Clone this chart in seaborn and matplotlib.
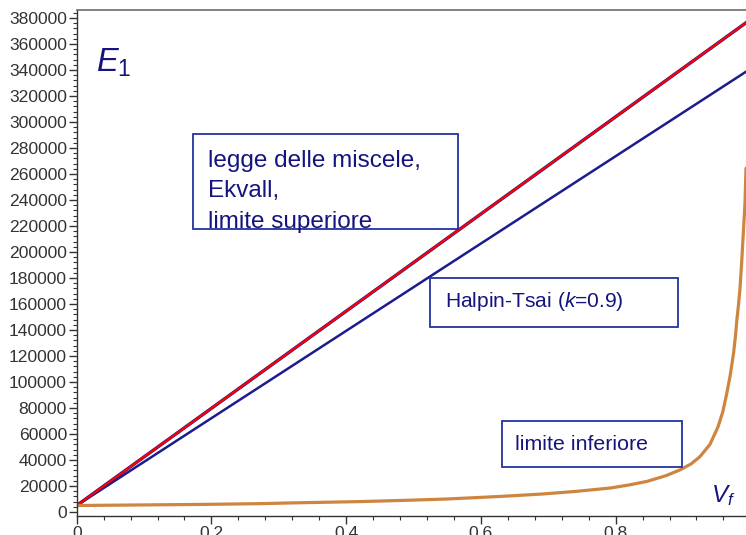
import matplotlib
matplotlib.use("Agg")
import matplotlib.pyplot as plt
import seaborn as sns
import pandas as pd
from matplotlib.ticker import FixedLocator, MultipleLocator
from matplotlib.patches import Rectangle

# ---------------- data ----------------
vf_line = [0.0, 1.0]
E_upper = [5000, 378800]          # legge delle miscele / limite superiore (red)
E_ekvall = [5000, 378800]         # Ekvall (blue, under red)
E_halpin = [5000, 340900]         # Halpin-Tsai k=0.9 (blue)

vf_lower = [0.0, 0.18, 0.27, 0.32, 0.42, 0.49, 0.55, 0.59, 0.63, 0.69, 0.74,
            0.793, 0.82, 0.847, 0.875, 0.896, 0.912, 0.925, 0.94, 0.952,
            0.959, 0.965, 0.970, 0.975, 0.978, 0.980, 0.9825, 0.9846,
            0.987, 0.9895, 0.992, 0.9935]
E_lower = [5000, 5800, 6400, 7000, 8000, 9000, 10000, 11000, 12000, 13800,
           15800, 18500, 20800, 23600, 28000, 32500, 37000, 42500, 52000,
           65600, 77000, 91300, 105000, 122000, 136000, 148000, 160000,
           172000, 191300, 214400, 237500, 264400]

x_ticks = [0.0, 0.2, 0.4, 0.6, 0.8]
x_tick_labels = ["0", "0.2", "0.4", "0.6", "0.8"]
y_ticks = list(range(0, 380001, 20000))
y_tick_labels = [str(v) for v in y_ticks]

# ---------------- style ----------------
sns.set_style("ticks")
plt.rcParams["font.family"] = ["Liberation Sans", "DejaVu Sans"]
plt.rcParams["mathtext.fontset"] = "custom"
plt.rcParams["mathtext.rm"] = "Liberation Sans"
plt.rcParams["mathtext.it"] = "Liberation Sans:italic"

W, H = 746, 535
RED = "#ff0000"
BLUE = "#1c1c8e"
ORANGE = "#cd853f"
NAVY = "#14147f"
BOX = "#2433a0"

fig = plt.figure(figsize=(W / 100, H / 100), dpi=100)
ax = fig.add_axes([76.7 / W, 1 - 516 / H, 1 - 76.7 / W, (516 - 10) / H])

df_up = pd.DataFrame({"Vf": vf_line, "E": E_upper})
df_ek = pd.DataFrame({"Vf": vf_line, "E": E_ekvall})
df_ht = pd.DataFrame({"Vf": vf_line, "E": E_halpin})
df_lo = pd.DataFrame({"Vf": vf_lower, "E": E_lower})

sns.lineplot(data=df_ek, x="Vf", y="E", ax=ax, color=BLUE, lw=2.4)
sns.lineplot(data=df_ht, x="Vf", y="E", ax=ax, color=BLUE, lw=1.8)
sns.lineplot(data=df_up, x="Vf", y="E", ax=ax, color=RED, lw=1.6)
line_lo = sns.lineplot(data=df_lo, x="Vf", y="E", ax=ax, color=ORANGE, lw=2.3)
for ln in ax.get_lines():
    ln.set_solid_joinstyle("round")

ax.set_xlim(0, 0.9935)
ax.set_ylim(-3080, 386200)
ax.set_xlabel("")
ax.set_ylabel("")

ax.xaxis.set_major_locator(FixedLocator(x_ticks))
ax.set_xticklabels(x_tick_labels)
ax.xaxis.set_minor_locator(MultipleLocator(0.04))
ax.yaxis.set_major_locator(FixedLocator(y_ticks))
ax.set_yticklabels(y_tick_labels)
ax.yaxis.set_minor_locator(MultipleLocator(4000))

ax.tick_params(which="major", direction="out", length=6, width=1,
               color="#333333", labelsize=12.6, labelcolor="#333333", pad=1)
ax.tick_params(which="minor", direction="out", length=3, width=0.8,
               color="#333333")

for s in ["left", "bottom"]:
    ax.spines[s].set_color("#333333")
    ax.spines[s].set_linewidth(1.0)
ax.spines["top"].set_color("#777777")
ax.spines["top"].set_linewidth(1.3)
ax.spines["right"].set_visible(False)


def fx(x):
    return x / W


def fy(y):
    return 1 - y / H


# boxes (pixel rectangles)
for (x0, y0, x1, y1) in [(193.3, 134, 458.3, 229.3),
                         (430, 278.3, 678.3, 327.3),
                         (501.7, 421, 682.3, 467.3)]:
    fig.patches.append(Rectangle((fx(x0), fy(y1)), fx(x1) - fx(x0), fy(y0) - fy(y1),
                                 transform=fig.transFigure, fill=False,
                                 edgecolor=BOX, lw=1.3))

tk = dict(color=NAVY, ha="left", va="baseline")
fig.text(fx(208.3), fy(166.7), "legge delle miscele,", fontsize=17.5, **tk)
fig.text(fx(208.3), fy(197.3), "Ekvall,", fontsize=17.5, **tk)
fig.text(fx(208.3), fy(228.3), "limite superiore", fontsize=17.5, **tk)
fig.text(fx(445), fy(307.3), "Halpin-Tsai ($k$=0.9)", fontsize=15.1, **tk)
fig.text(fx(515), fy(450), "limite inferiore", fontsize=15.4, **tk)
fig.text(fx(96), fy(71.7), "$E_1$", fontsize=23.5, **tk)
fig.text(fx(711), fy(501.7), "$V_f$", fontsize=17.5, **tk)

fig.savefig("out.png", dpi=100)
